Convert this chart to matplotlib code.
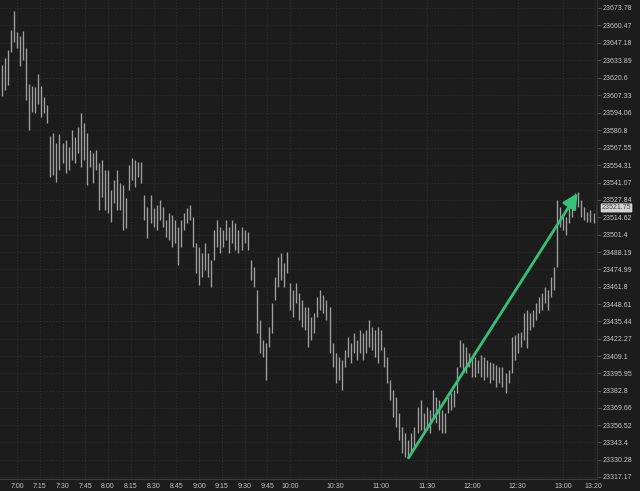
import matplotlib
matplotlib.use("Agg")
import matplotlib.pyplot as plt
import matplotlib.transforms as mtransforms

# 2 minute bars starting 6:50
bar_start = "6:50"
bar_step = 2

highs = [
    23630.4, 23635.8, 23641.9, 23657.1, 23671.5, 23655.5, 23652.5, 23656.3, 23643.4, 23616.0,
    23614.5, 23613.7, 23623.6, 23614.5, 23606.1, 23600.0, 23576.5, 23578.8, 23571.2, 23578.0,
    23571.2, 23573.4, 23568.1, 23581.0, 23575.7, 23583.3, 23594.0, 23586.4, 23578.8, 23565.8,
    23563.6, 23565.8, 23556.0, 23558.2, 23550.6, 23550.6, 23535.4, 23543.0, 23550.6, 23540.8,
    23539.2, 23529.3, 23554.4, 23559.8, 23558.2, 23556.7, 23556.7, 23531.6, 23522.5, 23531.6,
    23521.7, 23524.0, 23527.8, 23522.5, 23512.6, 23517.9, 23516.4, 23512.6, 23507.3, 23512.6,
    23517.9, 23521.7, 23524.0, 23514.9, 23495.1, 23492.1, 23487.5, 23495.1, 23487.5, 23482.2,
    23505.0, 23512.6, 23507.3, 23505.0, 23512.6, 23507.3, 23512.6, 23510.3, 23505.0, 23507.3,
    23505.0, 23503.5, 23482.2, 23476.9, 23459.4, 23436.6, 23421.4, 23419.1, 23431.3, 23449.5,
    23469.3, 23484.5, 23487.5, 23479.9, 23488.3, 23464.7, 23459.4, 23464.7, 23457.1, 23451.8,
    23446.5, 23446.5, 23438.9, 23441.9, 23454.1, 23459.4, 23455.6, 23451.8, 23446.5, 23419.1,
    23411.5, 23408.4, 23406.2, 23413.8, 23423.7, 23419.1, 23426.7, 23421.4, 23429.0, 23426.7,
    23429.0, 23436.6, 23431.3, 23429.0, 23431.3, 23429.0, 23416.0, 23408.4, 23391.0, 23383.3,
    23378.0, 23365.8, 23355.2, 23350.6, 23345.3, 23350.6, 23355.2, 23370.4, 23375.7, 23365.8,
    23370.4, 23368.1, 23383.3, 23378.0, 23375.7, 23368.1, 23365.8, 23378.0, 23381.0, 23383.3,
    23400.8, 23421.4, 23419.1, 23416.0, 23411.5, 23408.4, 23408.4, 23406.2, 23410.0, 23408.4,
    23406.2, 23404.6, 23403.9, 23402.3, 23400.8, 23400.8, 23396.2, 23398.5, 23423.7, 23425.2,
    23426.7, 23427.5, 23441.9, 23444.2, 23441.9, 23444.2, 23449.5, 23454.1, 23457.1, 23461.7,
    23459.4, 23469.3, 23476.9, 23527.8, 23522.5, 23517.9, 23514.9, 23522.5, 23527.8, 23533.1,
    23533.9, 23527.8, 23522.5, 23518.7, 23520.2, 23517.9, 23524.0,
]

lows = [
    23606.9, 23611.4, 23615.2, 23640.4, 23647.9, 23643.4, 23629.7, 23634.3, 23603.8, 23581.0,
    23594.7, 23594.0, 23600.8, 23590.9, 23594.0, 23586.4, 23545.3, 23546.8, 23541.5, 23550.6,
    23556.0, 23548.4, 23550.6, 23558.2, 23556.0, 23563.6, 23552.9, 23558.2, 23539.2, 23552.9,
    23540.8, 23550.6, 23520.2, 23530.1, 23520.2, 23517.9, 23511.1, 23525.5, 23520.2, 23520.2,
    23505.0, 23506.5, 23535.4, 23543.0, 23537.7, 23545.3, 23540.8, 23512.6, 23498.9, 23510.3,
    23507.3, 23505.0, 23512.6, 23507.3, 23499.7, 23497.4, 23492.1, 23495.1, 23478.4, 23492.1,
    23505.0, 23510.3, 23512.6, 23492.1, 23472.3, 23463.2, 23469.3, 23474.6, 23469.3, 23461.7,
    23482.2, 23492.1, 23487.5, 23492.1, 23497.4, 23487.5, 23495.1, 23489.8, 23487.5, 23489.8,
    23495.1, 23489.8, 23467.0, 23461.7, 23426.7, 23411.5, 23408.4, 23391.0, 23416.0, 23426.7,
    23451.8, 23461.7, 23467.0, 23461.7, 23472.3, 23444.2, 23438.9, 23449.5, 23436.6, 23431.3,
    23429.0, 23416.0, 23421.4, 23426.7, 23438.9, 23444.2, 23441.9, 23436.6, 23411.5, 23400.8,
    23388.7, 23391.0, 23383.3, 23400.8, 23408.4, 23403.9, 23411.5, 23406.2, 23411.5, 23406.2,
    23411.5, 23416.0, 23413.8, 23408.4, 23403.9, 23413.8, 23400.8, 23388.7, 23375.7, 23362.8,
    23355.2, 23345.3, 23335.4, 23332.4, 23331.6, 23335.4, 23340.0, 23350.6, 23352.9, 23350.6,
    23352.9, 23350.6, 23362.8, 23358.2, 23352.9, 23350.6, 23350.6, 23365.8, 23368.1, 23370.4,
    23381.0, 23400.8, 23398.5, 23396.2, 23400.8, 23393.2, 23393.2, 23396.2, 23393.2, 23391.0,
    23393.2, 23388.7, 23391.0, 23385.6, 23388.7, 23385.6, 23381.0, 23388.7, 23396.2, 23406.2,
    23411.5, 23416.0, 23421.4, 23415.3, 23429.0, 23431.3, 23436.6, 23441.9, 23444.2, 23449.5,
    23444.2, 23454.1, 23459.4, 23476.9, 23507.3, 23505.0, 23501.2, 23510.3, 23514.9, 23520.2,
    23522.5, 23514.9, 23512.6, 23511.1, 23511.1, 23510.3, 23516.0,
]

last_price = 23521.75

price_labels = [
    "23673.78", "23660.47", "23647.18", "23633.89", "23620.6", "23607.33", "23594.06",
    "23580.8", "23567.55", "23554.31", "23541.07", "23527.84", "23514.62", "23501.4",
    "23488.19", "23474.99", "23461.8", "23448.61", "23435.44", "23422.27", "23409.1",
    "23395.95", "23382.8", "23369.66", "23356.52", "23343.4", "23330.28", "23317.17",
]

time_labels = [
    "7:00", "7:15", "7:30", "7:45", "8:00", "8:15", "8:30", "8:45", "9:00", "9:15",
    "9:30", "9:45", "10:00", "10:30", "11:00", "11:30", "12:00", "12:30", "13:00", "13:20",
]


def to_min(s):
    h, m = s.split(":")
    return int(h) * 60 + int(m)


t0 = to_min(bar_start)
times = [t0 + i * bar_step for i in range(len(highs))]
price_ticks = [float(p) for p in price_labels]
time_ticks = [to_min(t) for t in time_labels]

bg = "#1c1c1c"
txt = "#c4c4c4"
grid_c = "#383838"
fonts = ["Liberation Sans Narrow", "Liberation Sans", "DejaVu Sans"]
plt.rcParams["font.family"] = fonts

fig = plt.figure(figsize=(6.4, 4.91), dpi=100)
fig.patch.set_facecolor(bg)
ax = fig.add_axes([0, 12 / 491, 597 / 640, 479 / 491])
ax.set_facecolor(bg)

# dotted grid on every label
for p in price_ticks:
    ax.axhline(p, color=grid_c, lw=0.6, ls=(0, (1, 2.5)), zorder=1)
for t in time_ticks:
    ax.axvline(t, color=grid_c, lw=0.6, ls=(0, (1, 2.5)), zorder=1)

# price bars
ax.vlines(times, lows, highs, color="#a0a0a0", lw=0.95, zorder=3)

# arrow from session low to the later high
i_lo = lows.index(min(lows))
rest = highs[i_lo:]
i_hi = i_lo + rest.index(max(rest))
ax.annotate("", xy=(times[i_hi], highs[i_hi]), xytext=(times[i_lo], lows[i_lo]),
            arrowprops=dict(arrowstyle="-|>,head_length=0.9,head_width=0.45",
                            color="#34c27a", lw=2.0, shrinkA=0, shrinkB=1),
            zorder=5)

ax.set_xlim(408.8, 802.3)
ax.set_ylim(23315.6, 23679.86)

ax.yaxis.tick_right()
ax.set_yticks(price_ticks)
ax.set_yticklabels(price_labels)
ax.set_xticks(time_ticks)
ax.set_xticklabels(time_labels)
ax.tick_params(axis="y", direction="out", length=3, width=0.6, color="#5a5a5a",
               labelcolor=txt, labelsize=5.0, pad=1.2)
ax.tick_params(axis="x", length=0, labelcolor=txt, labelsize=5.0, pad=3.2)

for side in ["top", "left"]:
    ax.spines[side].set_visible(False)
ax.spines["right"].set_color("#3a3a3a")
ax.spines["bottom"].set_color("#3a3a3a")
ax.spines["right"].set_linewidth(0.6)
ax.spines["bottom"].set_linewidth(0.8)

# last price marker on the scale
trans = mtransforms.blended_transform_factory(ax.transAxes, ax.transData)
ax.text(1.008, last_price, f"{last_price:.2f}", transform=trans, fontsize=5.0,
        color="#404040", va="center", ha="left", clip_on=False, zorder=6,
        bbox=dict(boxstyle="round,pad=0.15", fc="#d2d2d2", ec="none"))

fig.savefig("out.png", dpi=100, facecolor=bg)
